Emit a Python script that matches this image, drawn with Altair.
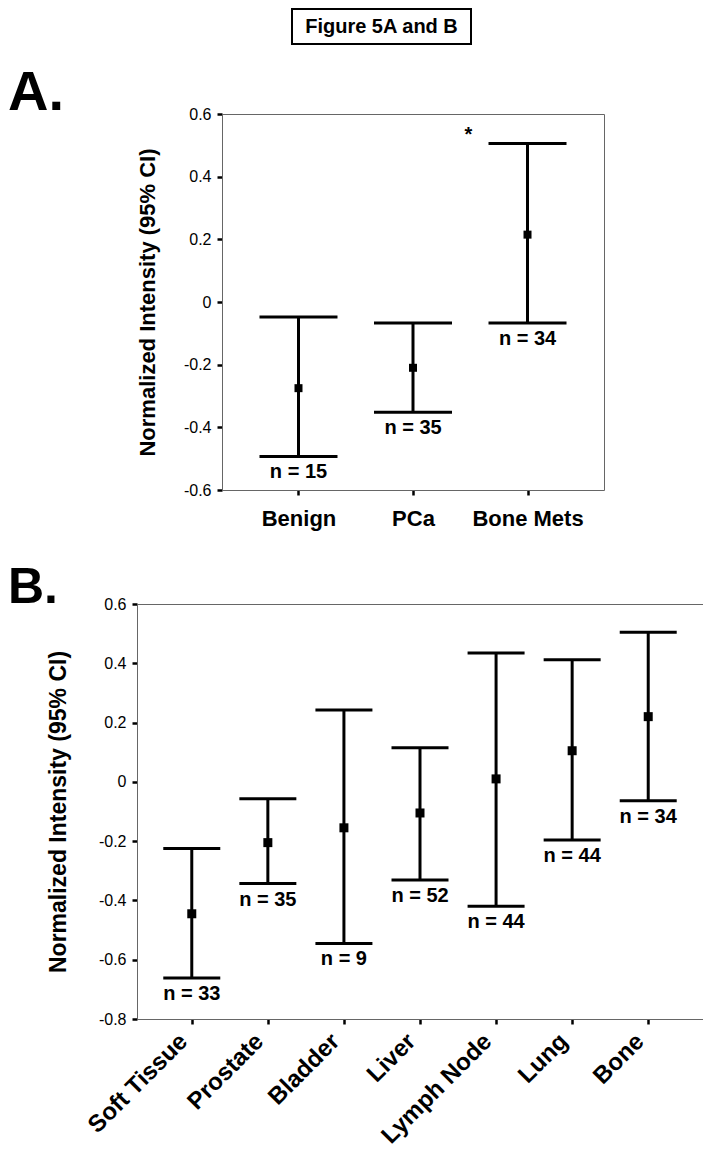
import altair as alt
import pandas as pd

FONT = "Liberation Sans"
FRAME = "#666666"

title_text = "Figure 5A and B"
y_title = "Normalized Intensity (95% CI)"

# Panel A
groups_a = ["Benign", "PCa", "Bone Mets"]
mean_a = [-0.275, -0.21, 0.215]
lower_a = [-0.493, -0.352, -0.067]
upper_a = [-0.048, -0.067, 0.506]
n_a = [15, 35, 34]
mark_a = ["", "", "*"]
yticks_a = [-0.6, -0.4, -0.2, 0, 0.2, 0.4, 0.6]

# Panel B
groups_b = ["Soft Tissue", "Prostate", "Bladder", "Liver", "Lymph Node", "Lung", "Bone"]
mean_b = [-0.445, -0.205, -0.155, -0.105, 0.01, 0.105, 0.22]
lower_b = [-0.662, -0.343, -0.545, -0.331, -0.42, -0.196, -0.064]
upper_b = [-0.225, -0.057, 0.242, 0.115, 0.435, 0.412, 0.505]
n_b = [33, 35, 9, 52, 44, 44, 34]
yticks_b = [-0.8, -0.6, -0.4, -0.2, 0, 0.2, 0.4, 0.6]

LABEL_EXPR = ("datum.value == 0 ? '0' : (datum.value < 0 ? '-' + format(-datum.value, '.1f') "
              ": format(datum.value, '.1f'))")


def make_df(groups, mean, lower, upper, n, marks=None):
    df = pd.DataFrame({"group": groups, "mean": mean, "lower": lower, "upper": upper,
                       "label": [f"n = {v}" for v in n]})
    df["mark"] = marks if marks else [""] * len(groups)
    return df


def panel(df, groups, ydomain, yticks, width, height, xrange, xpad, cap, sq, yoffset,
          xlab_angle, xlab_size, xlab_pad, ytitle_size, ytitle_pad,
          letter, letter_size, letter_y, extra=()):
    if xrange:
        xs = alt.Scale(type="point", domain=groups, range=xrange, padding=xpad)
    else:
        xs = alt.Scale(type="point", domain=groups, padding=xpad)
    ys = alt.Scale(domain=ydomain, nice=False, zero=False)

    left_axis = alt.Axis(orient="left", offset=yoffset, values=yticks, labelExpr=LABEL_EXPR,
                         grid=False, domainColor=FRAME, domainWidth=1, tickColor="black",
                         tickWidth=2.5, tickSize=5, labelFont=FONT, labelFontSize=16,
                         labelColor="black", labelPadding=6, title=y_title, titleFont=FONT,
                         titleFontSize=ytitle_size, titleFontWeight="bold", titleColor="black",
                         titlePadding=ytitle_pad)
    bx = dict(orient="bottom", grid=False, domainColor=FRAME, domainWidth=1, tickColor="black",
              tickWidth=2.5, tickSize=5, labelFont=FONT, labelFontSize=xlab_size,
              labelFontWeight="bold", labelColor="black", labelPadding=xlab_pad, title=None,
              labelAngle=xlab_angle)
    if xlab_angle != 0:
        bx.update(labelAlign="right", labelBaseline="bottom")
    bottom_axis = alt.Axis(**bx)
    top_axis = alt.Axis(orient="top", grid=False, labels=False, ticks=False, title=None,
                        domainColor=FRAME, domainWidth=1)
    right_axis = alt.Axis(orient="right", grid=False, labels=False, ticks=False, title=None,
                          domainColor=FRAME, domainWidth=1)

    base = alt.Chart(df)

    def X(axis=None):
        return alt.X("group:N", scale=xs, sort=groups, axis=axis)

    def Y(field, axis=None):
        return alt.Y(f"{field}:Q", scale=ys, axis=axis)

    bars = base.mark_rule(color="black", strokeWidth=3).encode(
        x=X(bottom_axis), y=Y("lower", left_axis), y2="upper")
    frame = base.mark_rule(opacity=0).encode(
        x=X(top_axis), y=Y("lower", right_axis), y2="upper")
    cap_hi = base.mark_tick(color="black", size=cap, thickness=3, orient="horizontal",
                            opacity=1).encode(x=X(), y=Y("upper"))
    cap_lo = base.mark_tick(color="black", size=cap, thickness=3, orient="horizontal",
                            opacity=1).encode(x=X(), y=Y("lower"))
    means = base.mark_square(color="black", size=sq, opacity=1, filled=True).encode(
        x=X(), y=Y("mean"))
    nlab = base.mark_text(dy=16, fontSize=20, fontWeight="bold", font=FONT, color="black",
                          baseline="middle").encode(x=X(), y=Y("lower"), text="label:N")
    stars = base.mark_text(dx=-59, dy=-8, fontSize=20, fontWeight="bold", font=FONT,
                           color="black", baseline="middle").encode(
        x=X(), y=Y("upper"), text="mark:N")
    letter_layer = alt.Chart(pd.DataFrame({"t": [letter]})).mark_text(
        align="left", baseline="alphabetic", fontSize=letter_size, fontWeight="bold",
        font=FONT, color="black").encode(x=alt.value(-129), y=alt.value(letter_y), text="t:N")

    layers = [bars, frame, cap_hi, cap_lo, means, nlab, stars, letter_layer] + list(extra)
    return alt.layer(*layers).resolve_axis(x="independent", y="independent").properties(
        width=width, height=height)


df_a = make_df(groups_a, mean_a, lower_a, upper_a, n_a, mark_a)
df_b = make_df(groups_b, mean_b, lower_b, upper_b, n_b)

tdf = pd.DataFrame({"t": [title_text]})
title_box = alt.Chart(tdf).mark_rect(fill="white", stroke="black", strokeWidth=2).encode(
    x=alt.value(155), x2=alt.value(334), y=alt.value(-105), y2=alt.value(-70))
title_txt = alt.Chart(tdf).mark_text(fontSize=20, fontWeight="bold", font=FONT, color="black",
                                     align="center", baseline="middle").encode(
    x=alt.value(244.5), y=alt.value(-87), text="t:N")

chart_a = panel(df_a, groups_a, [-0.6, 0.6], yticks_a, 467, 376, [85, 467], 0.668, 78, 64, -85,
                0, 22, 13, 22, 24, "A.", 56, -4, extra=(title_box, title_txt))
chart_b = panel(df_b, groups_b, [-0.8, 0.6], yticks_b, 566, 415, None, 0.72, 57, 81, 0,
                -45, 24, 22, 23, 28, "B.", 50, -1)

chart = alt.vconcat(chart_a, chart_b, spacing=114, bounds="flush").properties(
    padding=0).configure_view(stroke=None)

chart.save("out.html", embed_options={"renderer": "svg", "actions": False})
